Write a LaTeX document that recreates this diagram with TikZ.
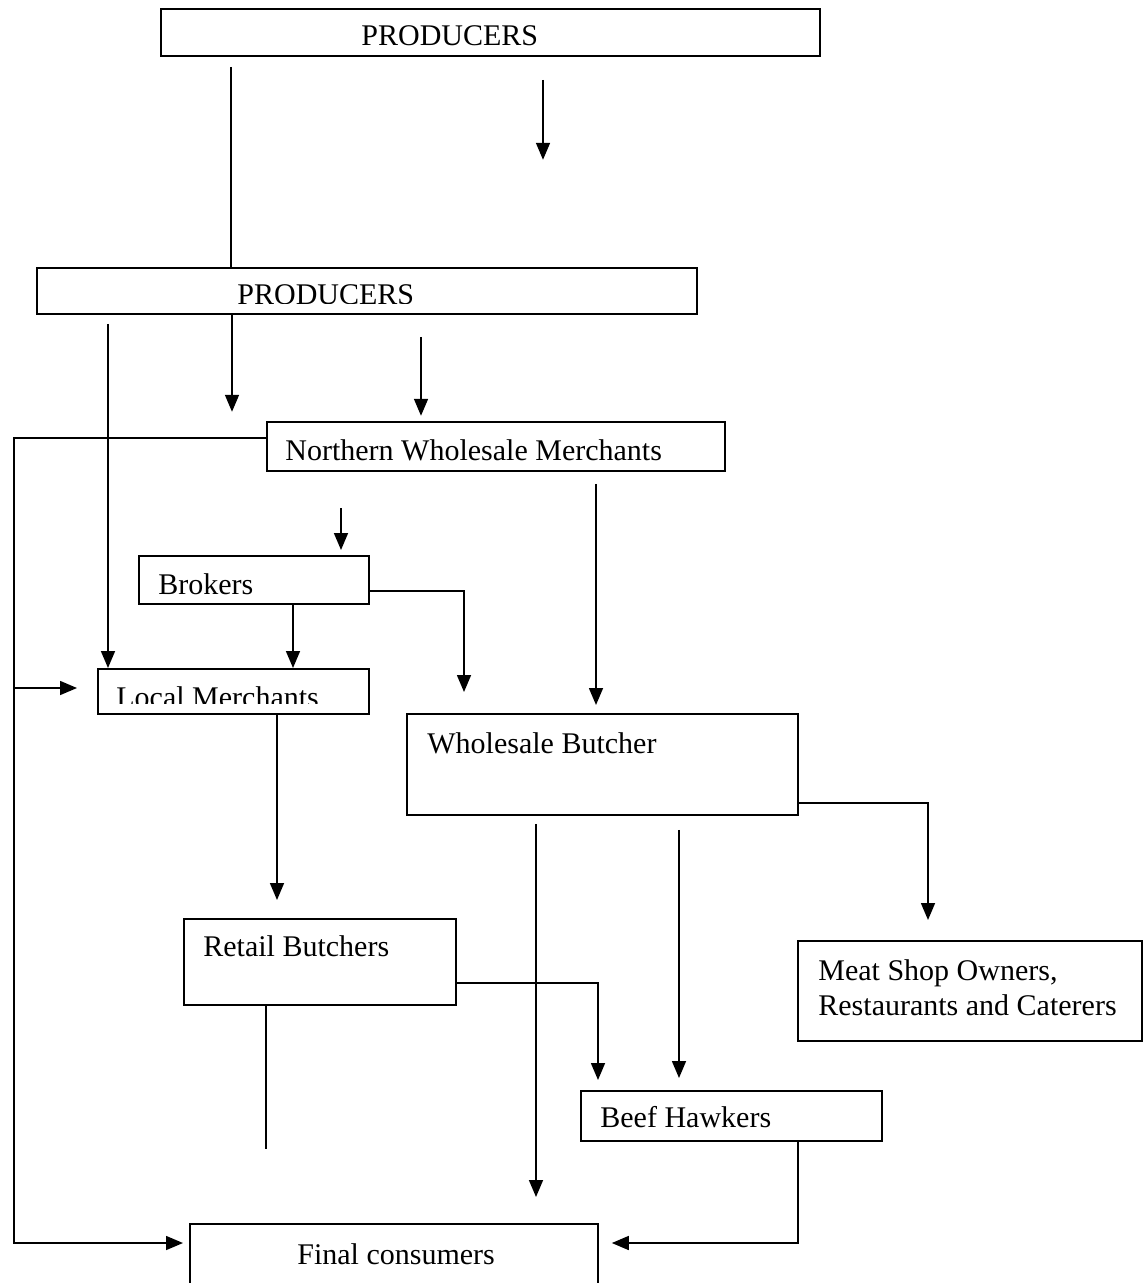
\documentclass[tikz,border=0pt]{standalone}
\usepackage{fontspec}
\setmainfont{Liberation Serif}
\usetikzlibrary{arrows.meta,calc}

\tikzset{
    box/.style={draw, line width=0.9pt, inner sep=0pt, anchor=north west},
    lbl/.style={font=\fontsize{15pt}{18pt}\selectfont, inner sep=0pt, anchor=base west},
    link/.style={line width=0.8pt},
    arr/.style={link, -{Triangle[width=7pt,length=8.5pt]}}
}

\begin{document}
\begin{tikzpicture}[x=0.5pt, y=-0.5pt]
    \useasboundingbox (0,0) rectangle (1147,1283);
    \clip (0,0) rectangle (1147,1283);
    % boxes
    \node[box, minimum width=329.5pt, minimum height=23.5pt] (prod1) at (160,8) {};
    \node[box, minimum width=330pt, minimum height=23pt] (prod2) at (36,267) {};
    \node[box, minimum width=229pt, minimum height=24.5pt] (nwm) at (266,421) {};
    \node[box, minimum width=115pt, minimum height=24pt] (brok) at (138,555) {};
    \node[box, minimum width=135.5pt, minimum height=22.5pt] (locm) at (97,668) {};
    \node[box, minimum width=195.5pt, minimum height=50.5pt] (wbut) at (406,713) {};
    \node[box, minimum width=136pt, minimum height=43pt] (rbut) at (183,918) {};
    \node[box, minimum width=172pt, minimum height=50pt] (meat) at (797,940) {};
    \node[box, minimum width=150.5pt, minimum height=25pt] (beef) at (580,1090) {};
    \node[box, minimum width=204pt, minimum height=40pt] (finc) at (189,1223) {};
    % labels
    \node[lbl] (prod1t) at (361,46) {PRODUCERS};
    \begin{scope}
        \clip (36,267) rectangle (696,304);
        \node[lbl] (prod2t) at (237,305) {PRODUCERS};
    \end{scope}
    \node[lbl] (nwmt) at (285,460) {Northern Wholesale Merchants};
    \node[lbl] (brokt) at (158,594) {Brokers};
    \begin{scope}
        \clip (97,668) rectangle (368,703);
        \node[lbl] (locmt) at (116,707) {Local Merchants};
    \end{scope}
    \node[lbl] (wbutt) at (427,753) {Wholesale Butcher};
    \node[lbl] (rbutt) at (203,956) {Retail Butchers};
    \node[lbl] (meatt1) at (818,980) {Meat Shop Owners,};
    \node[lbl] (meatt2) at (818,1015) {Restaurants and Caterers};
    \node[lbl] (beeft) at (600,1127) {Beef Hawkers};
    \node[lbl] (finct) at (297,1264) {Final consumers};
    % connectors
    \coordinate (rail) at (14,438);
    \coordinate (p1line) at ($(prod1.south west)+(71,10)$);
    \coordinate (p2left) at ($(prod2.south west)+(72,9)$);
    \coordinate (brokdown) at ($(brok.south west)+(155,0)$);
    \coordinate (locmin) at ($(locm.north west)+(-20,20)$);
    \draw[link] (p1line) -- (p1line |- prod2.north);
    \draw[arr] ($(prod1.south west)+(383,23)$) -- ++(0,80);
    \draw[arr] ($(prod2.south west)+(196,0)$) -- ++(0,97);
    \draw[arr] ($(prod2.south west)+(385,22)$) -- ++(0,79);
    \draw[arr] (p2left) -- (p2left |- locm.north);
    \draw[arr] ($(nwm.north west)+(0,17)$) -- (rail) |- ($(finc.north west)+(-6,20)$);
    \draw[arr] (rail |- locmin) -- (locmin);
    \draw[arr] ($(brok.north west)+(203,-47)$) -- ++(0,42);
    \draw[arr] ($(brok.north east)+(0,36)$) -| ($(wbut.north west)+(58,-21)$);
    \draw[arr] (brokdown) -- (brokdown |- locm.north);
    \draw[arr] ($(nwm.south west)+(330,12)$) -- ($(wbut.north west)+(190,-8)$);
    \draw[arr] ($(locm.south west)+(180,0)$) -- ($(rbut.north west)+(94,-18)$);
    \draw[arr] ($(wbut.north east)+(0,90)$) -| ($(meat.north west)+(131,-20)$);
    \draw[arr] ($(wbut.south west)+(130,8)$) -- ($(finc.north west)+(347,-26)$);
    \draw[arr] ($(wbut.south west)+(273,14)$) -- ($(beef.north west)+(99,-12)$);
    \draw[arr] ($(rbut.north east)+(0,65)$) -| ($(beef.north west)+(18,-10)$);
    \draw[link] ($(rbut.south west)+(83,0)$) -- ++(0,143);
    \draw[arr] ($(beef.south west)+(218,0)$) |- ($(finc.north east)+(13,20)$);
\end{tikzpicture}
\end{document}
